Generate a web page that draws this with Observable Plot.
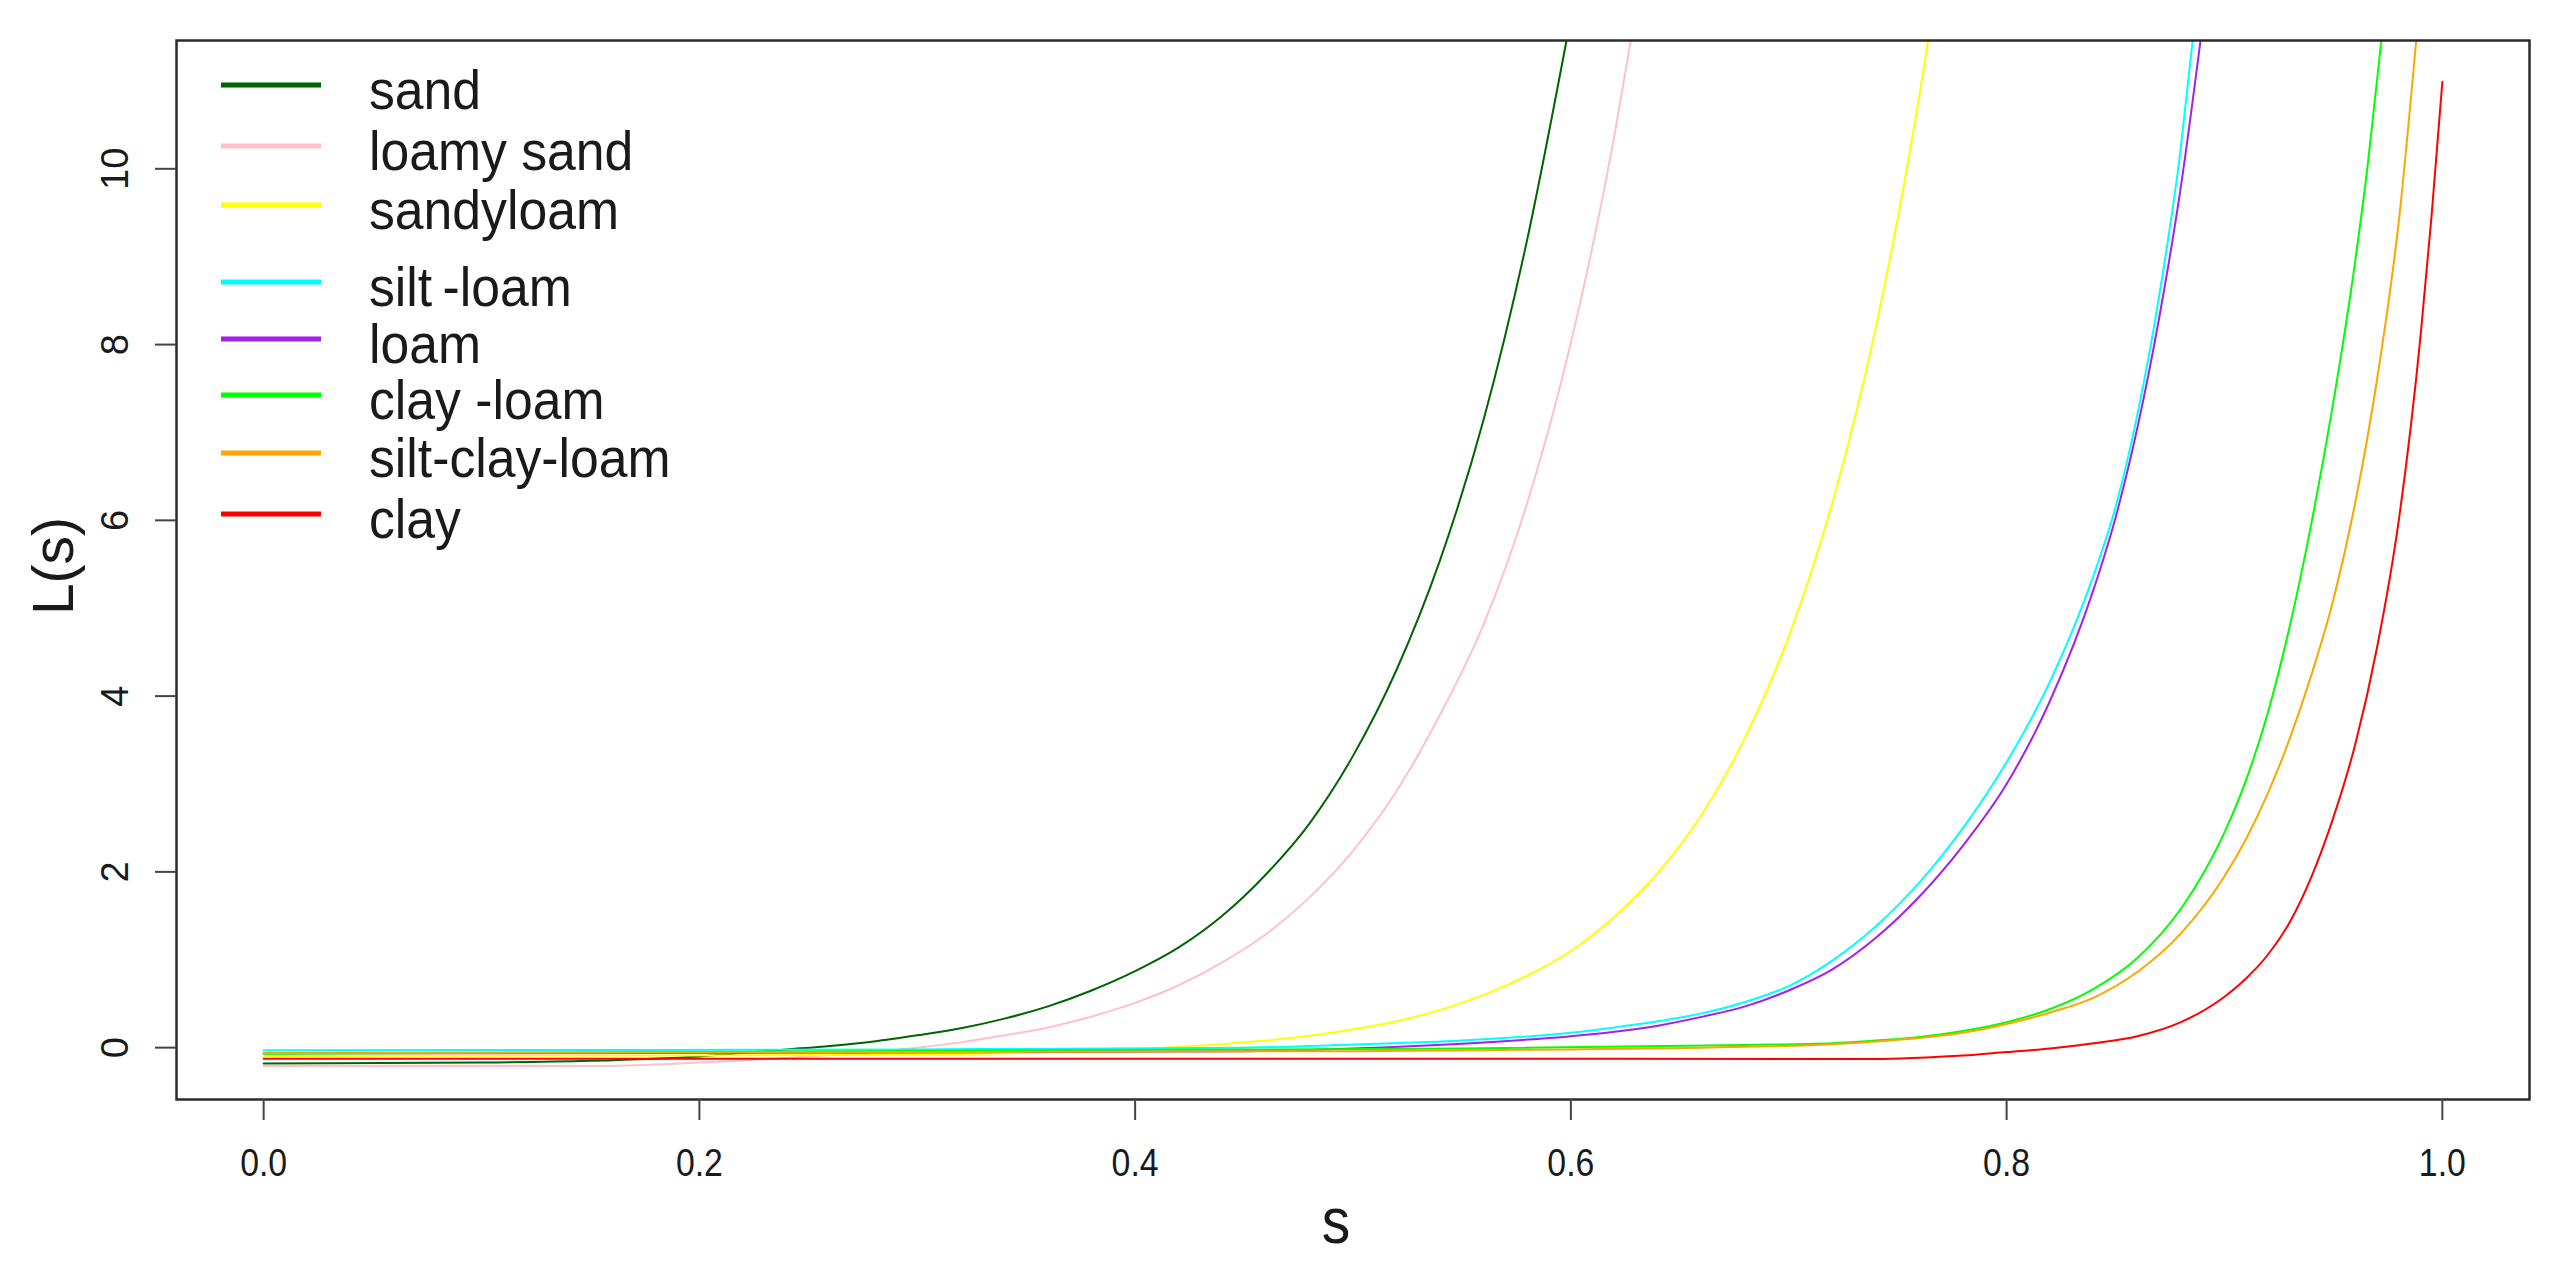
<!DOCTYPE html>
<html>
<head>
<meta charset="utf-8">
<script src="https://cdn.jsdelivr.net/npm/d3@7"></script>
<script src="https://cdn.jsdelivr.net/npm/@observablehq/plot@0.6"></script>
<style>
  html, body { margin: 0; padding: 0; background: #fff; }
  #chart { width: 2560px; height: 1270px; }
</style>
</head>
<body>
<div id="chart"></div>
<script>
// ---- data ----
const soils = ["sand", "loamy sand", "sandyloam", "silt\u2009-loam", "loam", "clay -loam", "silt-clay-loam", "clay"];
const colors = ["#006400", "#FFC0CB", "#FFFF00", "#00FFFF", "#A020F0", "#00FF00", "#FFA500", "#FF0000"];
const xTicks = [0, 0.2, 0.4, 0.6, 0.8, 1.0];
const yTicks = [0, 2, 4, 6, 8, 10];

// [s, L(s)] pairs for each soil
const sand = [[0,-0.18],[0.1,-0.17],[0.15,-0.15],[0.2,-0.1],[0.24,-0.02],[0.26,0.02],[0.28,0.07],[0.3,0.14],[0.32,0.22],[0.34,0.33],[0.36,0.47],[0.38,0.65],[0.4,0.87],[0.42,1.14],[0.44,1.5],[0.46,1.97],[0.48,2.55],[0.5,3.32],[0.52,4.3],[0.54,5.55],[0.56,7.15],[0.58,9.2],[0.598,11.46]];
const loamySand = [[0,-0.21],[0.15,-0.21],[0.2,-0.17],[0.25,-0.1],[0.28,-0.05],[0.3,0.0],[0.32,0.06],[0.34,0.14],[0.36,0.23],[0.38,0.355],[0.4,0.51],[0.42,0.71],[0.44,0.97],[0.46,1.29],[0.48,1.71],[0.5,2.24],[0.52,2.92],[0.54,3.79],[0.56,4.82],[0.58,6.2],[0.6,8.02],[0.62,10.38],[0.6275,11.46]];
const sandyLoam = [[0,-0.095],[0.2,-0.09],[0.3,-0.08],[0.35,-0.06],[0.38,-0.04],[0.4,-0.02],[0.42,0.01],[0.44,0.04],[0.46,0.08],[0.48,0.135],[0.5,0.21],[0.52,0.3],[0.54,0.43],[0.56,0.6],[0.58,0.82],[0.6,1.1],[0.62,1.49],[0.64,1.99],[0.66,2.65],[0.68,3.53],[0.7,4.68],[0.72,6.2],[0.74,8.2],[0.76,10.84],[0.764,11.46]];
const siltLoam = [[0,-0.03],[0.3,-0.02],[0.45,0.0],[0.5,0.035],[0.55,0.08],[0.6,0.17],[0.62,0.23],[0.64,0.3],[0.66,0.39],[0.68,0.52],[0.7,0.7],[0.72,0.99],[0.74,1.38],[0.76,1.88],[0.78,2.5],[0.8,3.25],[0.82,4.17],[0.84,5.38],[0.85,6.15],[0.86,7.2],[0.87,8.55],[0.88,10.25],[0.8854,11.46]];
const loam = [[0,-0.065],[0.3,-0.055],[0.45,-0.04],[0.5,-0.01],[0.55,0.045],[0.6,0.13],[0.62,0.18],[0.64,0.25],[0.66,0.35],[0.68,0.47],[0.7,0.65],[0.72,0.89],[0.74,1.25],[0.76,1.72],[0.78,2.3],[0.8,3.0],[0.82,3.95],[0.84,5.22],[0.85,6.03],[0.86,7.05],[0.87,8.3],[0.88,9.8],[0.889,11.46]];
const clayLoam = [[0,-0.07],[0.2,-0.05],[0.35,-0.03],[0.55,-0.01],[0.68,0.03],[0.72,0.05],[0.74,0.08],[0.76,0.12],[0.78,0.19],[0.8,0.29],[0.82,0.44],[0.84,0.67],[0.86,1.02],[0.88,1.58],[0.89,1.97],[0.9,2.45],[0.91,3.05],[0.92,3.82],[0.93,4.8],[0.94,5.98],[0.95,7.35],[0.96,8.95],[0.966,10.1],[0.972,11.46]];
const siltClayLoam = [[0,-0.06],[0.3,-0.05],[0.5,-0.04],[0.6,-0.02],[0.68,0.01],[0.72,0.04],[0.74,0.07],[0.76,0.11],[0.78,0.17],[0.8,0.27],[0.82,0.4],[0.84,0.57],[0.86,0.86],[0.88,1.3],[0.9,1.95],[0.91,2.38],[0.92,2.9],[0.93,3.52],[0.94,4.25],[0.95,5.1],[0.96,6.2],[0.97,7.6],[0.98,9.4],[0.988,11.46]];
const clay = [[0,-0.125],[0.5,-0.125],[0.74,-0.13],[0.76,-0.115],[0.78,-0.09],[0.8,-0.05],[0.82,-0.01],[0.84,0.05],[0.86,0.13],[0.88,0.29],[0.9,0.58],[0.91,0.79],[0.92,1.06],[0.93,1.43],[0.94,1.95],[0.95,2.62],[0.96,3.45],[0.97,4.55],[0.98,6.0],[0.99,8.1],[0.995,9.45],[1.0,10.99]];

const series = [sand, loamySand, sandyLoam, siltLoam, loam, clayLoam, siltClayLoam, clay];
const table = series.flatMap((pts, i) => pts.map(([s, L]) => ({soil: soils[i], s, L})));

const FONT = "'Liberation Sans', Arial, Helvetica, sans-serif";

const plot = Plot.plot({
  width: 2560,
  height: 1270,
  marginLeft: 176,
  marginRight: 31,
  marginTop: 40,
  marginBottom: 171,
  x: {domain: [-0.04, 1.04]},
  y: {domain: [-0.59, 11.46]},
  color: {domain: soils, range: colors},
  style: {fontFamily: FONT, background: "#fff", color: "#1a1a1a"},
  marks: [
    Plot.line(table, {x: "s", y: "L", z: "soil", stroke: "soil", strokeWidth: 2, curve: "monotone-x", clip: true}),
    Plot.frame({stroke: "#2b2b2b", strokeWidth: 2.5}),
    Plot.axisX({ticks: xTicks, tickFormat: d3.format(".1f"), tickSize: 21, tickPadding: 29, fontSize: 38, label: null, stroke: "#444", strokeWidth: 2}),
    Plot.axisY({ticks: yTicks, tickFormat: d3.format("d"), tickSize: 21, tickPadding: 28, tickRotate: -90, fontSize: 38, label: null, stroke: "#444", strokeWidth: 2})
  ]
});

document.getElementById("chart").appendChild(plot);

const svg = d3.select(plot);

// slight horizontal squeeze of the horizontal tick labels, like the reference
svg.selectAll('g[aria-label="x-axis tick label"] text').each(function () {
  const t = this.getAttribute("transform") || "";
  this.setAttribute("transform", t + " scale(0.89,1)");
});

// axis titles
svg.append("text")
  .attr("transform", "translate(1336,1243) scale(0.89,1)")
  .attr("text-anchor", "middle")
  .attr("font-family", FONT)
  .attr("font-size", 64)
  .attr("fill", "#1a1a1a")
  .text("s");
svg.append("text")
  .attr("transform", "translate(73,566) rotate(-90)")
  .attr("text-anchor", "middle")
  .attr("font-family", FONT)
  .attr("font-size", 57)
  .attr("fill", "#1a1a1a")
  .text("L(s)");

// legend (inside top-left of the plot, no box)
const rowY = [85, 146, 205, 282, 339, 395, 453, 514];
const lg = svg.append("g").attr("aria-label", "legend");
soils.forEach((name, i) => {
  lg.append("line")
    .attr("x1", 221).attr("x2", 321)
    .attr("y1", rowY[i]).attr("y2", rowY[i])
    .attr("stroke", colors[i]).attr("stroke-width", 5);
  lg.append("text")
    .attr("transform", `translate(369,${rowY[i] + 24}) scale(0.94,1)`)
    .attr("text-anchor", "start")
    .attr("font-family", FONT)
    .attr("font-size", 55)
    .attr("fill", "#1a1a1a")
    .text(name);
});
</script>
</body>
</html>
